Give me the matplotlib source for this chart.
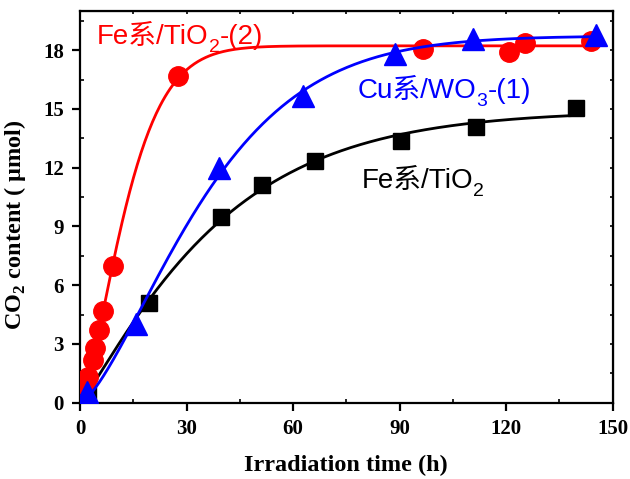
import numpy as np
import matplotlib
matplotlib.use("Agg")
import matplotlib.pyplot as plt
from matplotlib.ticker import MultipleLocator
from matplotlib.transforms import offset_copy

plt.rcParams["mathtext.fontset"] = "custom"
plt.rcParams["mathtext.rm"] = "Liberation Serif:bold"
plt.rcParams["mathtext.bf"] = "Liberation Serif:bold"

# data
fe2_x = [1.5, 2.3, 3.6, 4.2, 5.4, 6.6, 9.4, 27.5, 96.5, 120.9, 125.2, 143.9]
fe2_y = [0.9, 1.33, 2.2, 2.8, 3.7, 4.7, 7.0, 16.7, 18.05, 17.9, 18.37, 18.46]

cu_x = [1.9, 15.7, 39.1, 62.8, 88.6, 110.6, 145.3]
cu_y = [0.56, 4.0, 11.98, 15.64, 17.78, 18.58, 18.75]

fe_x = [2.2, 19.4, 39.8, 51.3, 66.1, 90.5, 111.6, 139.7]
fe_y = [0.4, 5.11, 9.48, 11.13, 12.32, 13.35, 14.06, 15.05]

x_ticks = [0, 30, 60, 90, 120, 150]
y_ticks = [0, 3, 6, 9, 12, 15, 18]


def fit_curve(x, y):
    # Avrami-type fit y = A(1-exp(-(x/t)^n)), grid search, A by least squares
    x = np.asarray(x, float)
    y = np.asarray(y, float)
    best = None
    for t in np.linspace(3, 80, 300):
        for n in np.linspace(0.6, 2.5, 120):
            f = 1 - np.exp(-(x / t) ** n)
            A = (f @ y) / (f @ f)
            err = np.sum((A * f - y) ** 2)
            if best is None or err < best[0]:
                best = (err, A, t, n)
    _, A, t, n = best
    xs = np.linspace(x.min(), x.max(), 400)
    return xs, A * (1 - np.exp(-(xs / t) ** n))


fig = plt.figure(figsize=(6.3, 4.79), dpi=100)
ax = fig.add_axes([0.127, 0.1593, 0.8455, 0.8177])

lw = 2.0
xs, ys = fit_curve(fe_x, fe_y)
ax.plot(xs, ys, color="black", lw=lw, zorder=2)
ax.plot(fe_x, fe_y, "s", color="black", ms=12, zorder=3)

xs, ys = fit_curve(fe2_x, fe2_y)
ax.plot(xs, ys, color="#ff0000", lw=lw, zorder=4)
ax.plot(fe2_x, fe2_y, "o", color="#ff0000", ms=14, zorder=5)

xs, ys = fit_curve(cu_x, cu_y)
ax.plot(xs, ys, color="#0000ff", lw=lw, zorder=6)
ax.plot(cu_x, cu_y, "^", color="#0000ff", ms=16, zorder=7)

ax.set_xlim(0, 150)
ax.set_ylim(0, 20)
ax.set_xticks(x_ticks)
ax.set_yticks(y_ticks)
ax.xaxis.set_minor_locator(MultipleLocator(15))
ax.yaxis.set_minor_locator(MultipleLocator(1.5))

for s in ax.spines.values():
    s.set_linewidth(1.6)

ax.tick_params(which="major", direction="out", length=5.5, width=1.6, pad=6,
               bottom=True, left=True, top=False, right=False)
ax.tick_params(which="minor", direction="in", length=3, width=1.2,
               bottom=True, left=True, top=False, right=False)
for lab in ax.get_xticklabels() + ax.get_yticklabels():
    lab.set_fontfamily("Liberation Serif")
    lab.set_fontweight("bold")
    lab.set_fontsize(15)

# tiny ticks on top and right
top = ax.secondary_xaxis("top")
top.set_xticks(np.arange(0, 151, 15))
top.tick_params(direction="in", length=2, width=1.2, labeltop=False)
right = ax.secondary_yaxis("right")
right.set_yticks(np.arange(0, 20.1, 1.5))
right.tick_params(direction="in", length=2, width=1.2, labelright=False)

ax.set_xlabel("Irradiation time (h)", fontfamily="Liberation Serif",
              fontweight="bold", fontsize=17.5, labelpad=12)
ax.set_ylabel("CO$_\\mathbf{2}$ content ( μmol)", fontfamily="Liberation Serif",
              fontweight="bold", fontsize=17.5)
ax.yaxis.set_label_coords(-0.098, 0.455)

# labels with subscripts, pieces placed one after another
fam = ["Liberation Sans", "Noto Sans CJK SC"]
renderer = fig.canvas.get_renderer()


def label(x, y, parts, color):
    cur_x = x
    for txt, sub in parts:
        if sub:
            tr = offset_copy(ax.transData, fig=fig, y=-5.5, units="points")
            size = 14
        else:
            tr = ax.transData
            size = 20
        t = ax.text(cur_x, y, txt, transform=tr, color=color, family=fam,
                    fontsize=size, ha="left", va="baseline")
        ext = t.get_window_extent(renderer)
        cur_x = ax.transData.inverted().transform((ext.x1, 0))[0]


label(4.8, 18.3, [("Fe系/TiO", False), ("2", True), ("-(2)", False)], "#ff0000")
label(78.2, 15.56, [("Cu系/WO", False), ("3", True), ("-(1)", False)], "#0000ff")
label(79.3, 10.96, [("Fe系/TiO", False), ("2", True)], "black")

fig.savefig("out.png", dpi=100)
